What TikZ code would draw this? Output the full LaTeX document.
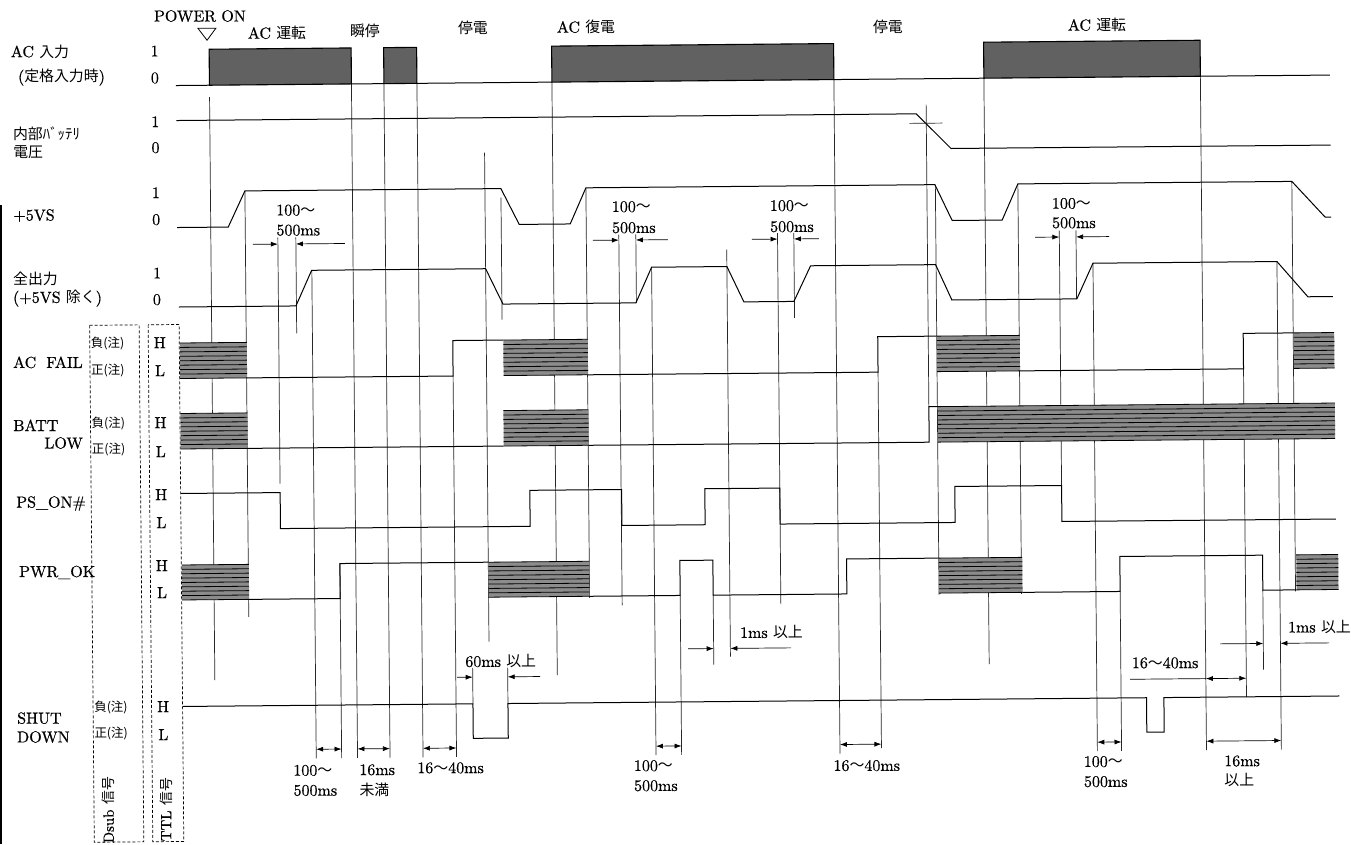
\documentclass[tikz,border=0pt]{standalone}
\usepackage{fontspec}
\setmainfont{lmroman10-regular.otf}[FakeBold=0.6]
\newfontfamily\jp[Scale=0.93]{Noto Sans CJK JP}
\usetikzlibrary{arrows.meta}
\newcommand\fs{\fontsize{16}{18}\selectfont}
\newcommand\fss{\fontsize{13.4}{15}\selectfont}
\newcommand\fsv{\fontsize{14.8}{16}\selectfont}
\newcommand\hband[4]{%
  \fill[hfill] (#1,#3) rectangle (#2,#4);
  \foreach \k in {0,...,8}{\draw[hline] (#1,{#3+\k*(#4-#3)/8}) -- (#2,{#3+\k*(#4-#3)/8});}
}
\begin{document}
\begin{tikzpicture}[x=1pt,y=-1pt,
  sig/.style={line width=1pt,line join=miter},
  guide/.style={line width=0.7pt,black!85},
  acbox/.style={fill=black!62,draw=black,line width=1.1pt},
  hfill/.style={fill=black!45},
  hline/.style={line width=0.8pt},
  lab/.style={font=\fs,inner sep=0pt},
  labw/.style={font=\fs,inner sep=0pt,anchor=west},
  note/.style={font=\fss,inner sep=0pt,anchor=west},
  vlab/.style={font=\fsv,inner sep=0pt,rotate=90},
  dimarr/.style={line width=0.7pt,-{Latex[length=7pt,width=5pt]}},
  dimboth/.style={line width=0.7pt,{Latex[length=7pt,width=5pt]}-{Latex[length=7pt,width=5pt]}},
  dbox/.style={densely dashed,line width=0.7pt}]
\useasboundingbox (0,0) rectangle (1351,844);
\fill[white] (0,0) rectangle (1351,844);
\draw[line width=2.5pt] (1.2,205) -- (1.2,844);
\begin{scope}[rotate around={0.52:(675,422)}]
% ---------- top labels
\node[lab] (pon) at (203.6,11.7) {POWER ON};
\draw[line width=0.8pt] (201.5,24) -- (219.5,24) -- (210.5,36) -- cycle;
\node[lab] (acrun1) at (280.5,29.4) {AC {\jp 運転}};
\node[lab] (shun) at (368.5,28.2) {{\jp 瞬停}};
\node[lab] (tei1) at (476.5,26.2) {{\jp 停電}};
\node[lab] (fuku) at (589.6,26.2) {AC {\jp 復電}};
\node[lab] (tei2) at (891.5,28.9) {{\jp 停電}};
\node[lab] (acrun2) at (1100.6,28.8) {AC {\jp 運転}};
% ---------- left labels
\node[labw] (lac) at (14,45.5) {AC {\jp 入力}};
\node[labw] (lac2) at (21,71.5) {({\jp 定格入力時})};
\node[labw] (lbat) at (15.5,127.5) {{\jp 内部ﾊﾞｯﾃﾘ}};
\node[labw] (lbat2) at (15.5,146.5) {{\jp 電圧}};
\node[labw] (l5vs) at (15,209.5) {+5VS};
\node[labw] (lall) at (14.3,272.7) {{\jp 全出力}};
\node[labw] (lall2) at (14,292.5) {(+5VS {\jp 除く})};
\node[labw] (lfail) at (13.5,356.4) {AC\hspace{10pt}FAIL};
\node[labw] (lbatt) at (13,419.3) {BATT};
\node[labw] (llow) at (44,437.3) {LOW};
\node[labw] (lps) at (15.3,497.5) {PS\_ON\#};
\node[labw] (lpwr) at (17.6,566.5) {PWR\_OK};
\node[labw] (lshut) at (14.3,712.2) {SHUT};
\node[labw] (ldown) at (14,731) {DOWN};
% 1 / 0
\node[lab] (a1) at (158,46.3) {1};  \node[lab] (a0) at (158,73.3) {0};
\node[lab] (b1) at (158,117) {1};   \node[lab] (b0) at (158,143) {0};
\node[lab] (c1) at (158,188) {1};   \node[lab] (c0) at (158,215) {0};
\node[lab] (d1) at (158.5,268.4) {1}; \node[lab] (d0) at (158,295) {0};
% neg/pos
\node[note] (n1) at (91.5,337.8) {{\jp 負(注)}}; \node[note] (p1) at (91.5,364.8) {{\jp 正(注)}};
\node[note] (n2) at (91.5,418) {{\jp 負(注)}};   \node[note] (p2) at (91.5,444) {{\jp 正(注)}};
\node[note] (n3) at (91.5,702) {{\jp 負(注)}};   \node[note] (p3) at (91.5,728) {{\jp 正(注)}};
% H / L
\node[lab] (h1) at (160.5,338) {H}; \node[lab] (l1) at (160.5,366) {L};
\node[lab] (h2) at (160.5,418) {H}; \node[lab] (l2) at (160.5,447) {L};
\node[lab] (h3) at (160.5,490) {H}; \node[lab] (l3) at (160.5,518) {L};
\node[lab] (h4) at (160.5,561) {H}; \node[lab] (l4) at (160.5,588) {L};
\node[lab] (h5) at (160.5,702) {H}; \node[lab] (l5) at (160.5,730) {L};
% dashed boxes
\draw[dbox] (90.5,320) rectangle (140,837);
\draw[dbox] (149,320) rectangle (180,837);
\node[vlab] (dsub) at (105,805) {Dsub {\jp 信号}};
\node[vlab] (ttl) at (162.5,805) {TTL {\jp 信号}};
% ---------- guide lines
\foreach \x/\a/\b in {212.5/93/676, 247/187/613, 279.5/234/480, 297.5/234/330,
  313.2/267/755, 338.6/560.5/755, 354.5/81/755, 387/81/755, 420/81/755,
  453.5/374/755, 487/151/640, 503/196/318, 555/81/674, 588/187/597,
  620.5/234/605, 637.5/234/302.5, 653/267/755, 678.6/595.5/755,
  711.6/595.5/665, 728.3/250/657, 779.2/234/605, 795.5/234/319,
  837/81/755, 878.5/374/750, 929/107/409, 937.5/187/597, 987/81/667,
  1020/187/597, 1061/234/489, 1077.7/234/302.5, 1094.4/267/755,
  1118.6/595.5/755, 1203.5/81/755, 1244/374/702, 1261.3/595.5/675,
  1278.4/267/755, 1294/187/597}
  {\draw[guide] (\x,\a) -- (\x,\b);}
% ---------- AC input
\draw[sig] (179,81) -- (212.5,81);
\draw[acbox] (212.5,45) rectangle (354.5,81);
\draw[sig] (354.5,81) -- (387,81);
\draw[acbox] (387,45) rectangle (420,81);
\draw[sig] (420,81) -- (555,81);
\draw[acbox] (555,45) rectangle (837,81);
\draw[sig] (837,81) -- (987,81);
\draw[acbox] (987,45) rectangle (1203.5,81);
\draw[sig] (1203.5,81) -- (1333,81);
% ---------- battery
\draw[sig] (179,116) -- (919,116) -- (953.5,151) -- (1333,151);
\draw[guide] (912,125.5) -- (945,125.5);
% ---------- +5VS
\draw[sig] (179,223) -- (230,223) -- (247,187) -- (503,187) -- (521,223) -- (572,223)
  -- (588,187) -- (937,187) -- (954,223) -- (1004,223) -- (1020,187) -- (1294,187)
  -- (1327,223) -- (1333,223);
% ---------- all outputs
\draw[sig] (180,302.5) -- (297,302.5) -- (313,267) -- (487,267) -- (504,302.5)
  -- (637,302.5) -- (653,267) -- (728.3,267) -- (745,302.5) -- (795,302.5)
  -- (812,267) -- (937,267) -- (953,302.5) -- (1078,302.5) -- (1094.4,267)
  -- (1278.4,267) -- (1309,302.5) -- (1334,302.5);
% ---------- AC FAIL
\hband{180.5}{247.5}{338.5}{374}
\draw[sig] (247.5,374) -- (453.5,374) -- (453.5,338.5) -- (504,338.5);
\hband{504}{588.5}{338.5}{374}
\draw[sig] (588.5,374) -- (878.5,374) -- (878.5,338.5) -- (937.5,338.5);
\hband{937.5}{1020.5}{338.5}{374}
\draw[sig] (1020.5,374) -- (1244,374) -- (1244,338.5) -- (1294.5,338.5);
\hband{1294.5}{1335}{338.5}{374}
% ---------- BATT LOW
\hband{180.5}{247.5}{409}{444.5}
\draw[sig] (247.5,444.5) -- (503.5,444.5);
\hband{503.5}{588.5}{409}{444.5}
\draw[sig] (588.5,444.5) -- (929,444.5) -- (929,409) -- (938,409);
\hband{938}{1335}{409}{444.5}
% ---------- PS_ON#
\draw[sig] (180.5,489) -- (279.5,489) -- (279.5,525) -- (529.2,525) -- (529.2,489)
  -- (621,489) -- (621,525) -- (704.2,525) -- (704.2,489) -- (779.2,489) -- (779.2,525)
  -- (954.2,525) -- (954.2,489) -- (1061,489) -- (1061,525) -- (1335,525);
% ---------- PWR_OK
\hband{180.5}{247.5}{560.5}{595.5}
\draw[sig] (247.5,595.5) -- (338.6,595.5) -- (338.6,560.5) -- (487,560.5);
\hband{487}{588}{560.5}{595.5}
\draw[sig] (588,595.5) -- (678.6,595.5) -- (678.6,560.5) -- (711.6,560.5) -- (711.6,595.5)
  -- (845.3,595.5) -- (845.3,560.5) -- (937.5,560.5);
\hband{937.5}{1021}{560.5}{595.5}
\draw[sig] (1021,595.5) -- (1118.6,595.5) -- (1118.6,560.5) -- (1261.3,560.5)
  -- (1261.3,595.5) -- (1295,595.5);
\hband{1295}{1337}{560.5}{595.5}
% ---------- SHUTDOWN
\draw[sig] (180.5,702) -- (470.4,702) -- (470.4,736.5) -- (505.4,736.5) -- (505.4,702)
  -- (1144,702) -- (1144,736.5) -- (1161.4,736.5) -- (1161.4,702) -- (1337,702);
\draw[guide] (470.4,666) -- (470.4,702);
\draw[guide] (505.4,666) -- (505.4,702);
% ---------- upper dimension arrows 100~500ms
\foreach \l/\r/\y/\ls/\rs in {279.5/297.5/240.5/254.6/346.6, 620.5/637.5/239.6/594.6/669.6,
  779.2/795.5/240/753.6/820.6, 1061/1077.7/240.5/1036.7/1110.7}
  {\draw[dimarr] (\ls,\y) -- (\l,\y); \draw[dimarr] (\rs,\y) -- (\r,\y);}
\node[labw] (u1a) at (278,206.6) {100{\jp ～}};  \node[labw] (u1b) at (278,226.6) {500ms};
\node[labw] (u2a) at (613.6,206.2) {100{\jp ～}}; \node[labw] (u2b) at (613.6,227.2) {500ms};
\node[labw] (u3a) at (771.7,206.6) {100{\jp ～}}; \node[labw] (u3b) at (771.7,227.6) {500ms};
\node[labw] (u4a) at (1053.7,206.9) {100{\jp ～}}; \node[labw] (u4b) at (1053.7,226.3) {500ms};
% ---------- 60ms / 1ms / 16~40ms upper
\draw[dimarr] (454.8,675.3) -- (470.4,675.3); \draw[dimarr] (537.7,675.3) -- (505.4,675.3);
\node[labw] (m60) at (463,659.4) {60ms {\jp 以上}};
\draw[dimarr] (686,648.9) -- (711.6,648.9); \draw[dimarr] (789,648.9) -- (728.3,648.9);
\node[labw] (m1a) at (738,633) {1ms {\jp 以上}};
\draw[dimarr] (1218,648.8) -- (1261.3,648.8); \draw[dimarr] (1327,648.8) -- (1278.4,648.8);
\node[labw] (m1b) at (1286,632.5) {1ms {\jp 以上}};
\draw[line width=0.7pt] (1127.7,683.4) -- (1203.5,683.4);
\draw[dimboth] (1203.5,683.4) -- (1244,683.4);
\node[labw] (m16) at (1129.5,667) {16{\jp ～}40ms};
% ---------- bottom dimensions
\foreach \a/\b in {313.2/338.6, 354.5/387, 420/453.5, 653/678.6, 837/878.5, 1094.4/1118.6, 1203.5/1278.4}
  {\draw[dimboth] (\a,746) -- (\b,746);}
\node[labw] (b1a) at (290,767) {100{\jp ～}};   \node[labw] (b1b) at (290,787) {500ms};
\node[labw] (b2a) at (356,767) {16ms};          \node[labw] (b2b) at (356,787) {{\jp 未満}};
\node[labw] (b3a) at (414,765.5) {16{\jp ～}40ms};
\node[labw] (b4a) at (630.6,765.4) {100{\jp ～}}; \node[labw] (b4b) at (630.6,785.4) {500ms};
\node[labw] (b5a) at (830.2,767) {16{\jp ～}40ms};
\node[labw] (b6a) at (1080.5,765.4) {100{\jp ～}}; \node[labw] (b6b) at (1080.5,785.4) {500ms};
\node[labw] (b7a) at (1221,766) {16ms};          \node[labw] (b7b) at (1221,785) {{\jp 以上}};
\end{scope}
\end{tikzpicture}
\end{document}
